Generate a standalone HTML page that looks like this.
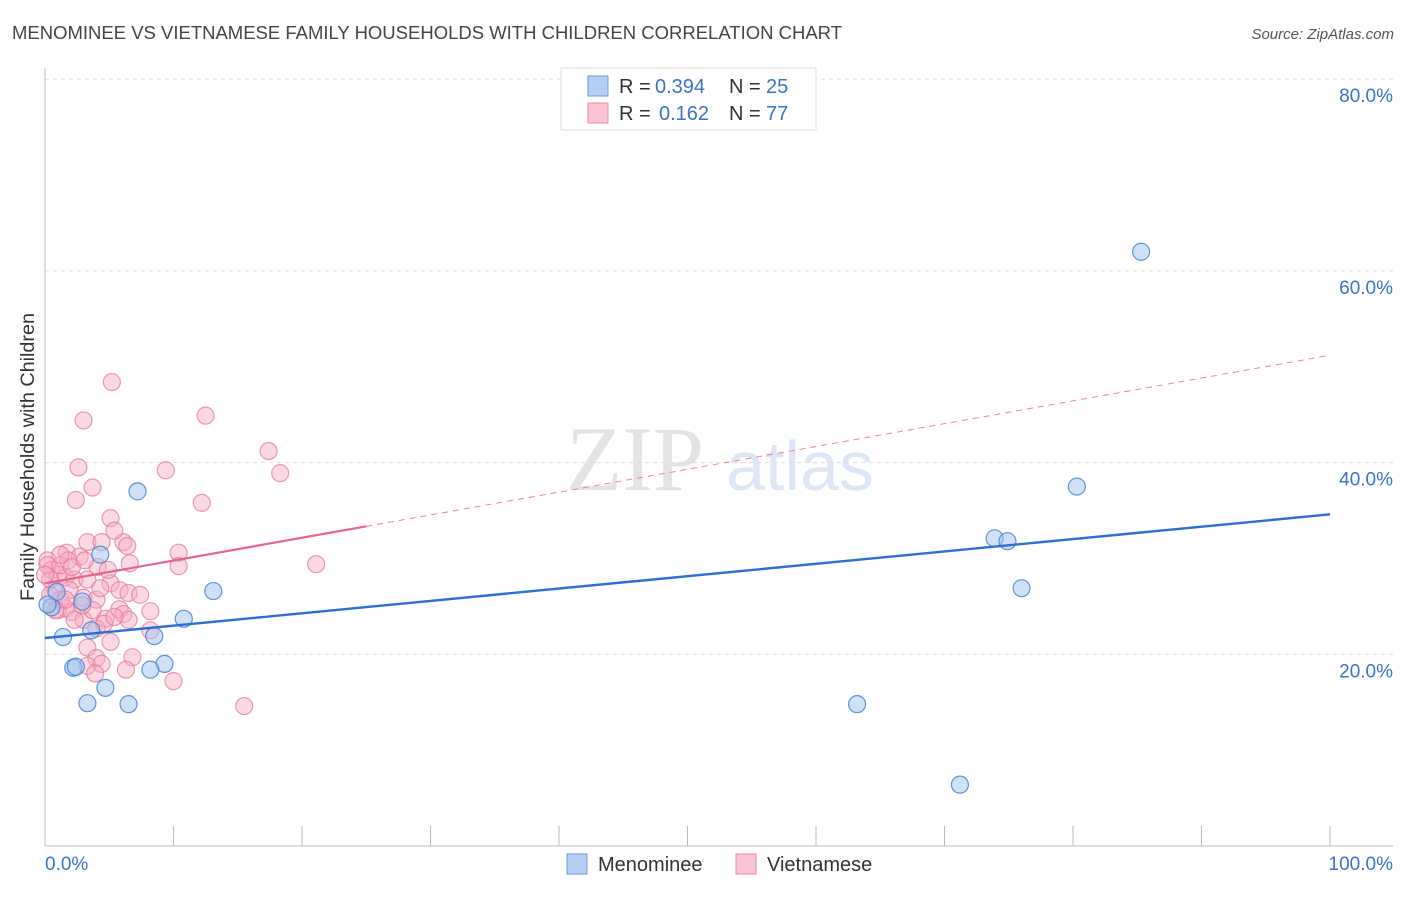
<!DOCTYPE html>
<html><head><meta charset="utf-8"><style>
body{margin:0;background:#fff;font-family:"Liberation Sans",sans-serif}
</style></head><body>
<svg id="chart" width="1406" height="892" xmlns="http://www.w3.org/2000/svg" font-family="Liberation Sans, sans-serif">
<text x="12" y="39" font-size="18" fill="#444" textLength="830" lengthAdjust="spacingAndGlyphs">MENOMINEE VS VIETNAMESE FAMILY HOUSEHOLDS WITH CHILDREN CORRELATION CHART</text>
<text x="1394" y="39" font-size="15" fill="#555" font-style="italic" text-anchor="end">Source: ZipAtlas.com</text>
<text transform="translate(34,457) rotate(-90)" font-size="19" fill="#333" text-anchor="middle" textLength="288" lengthAdjust="spacingAndGlyphs">Family Households with Children</text>
<g>
<text x="635" y="490" font-size="92" fill="#e3e3e3" font-family="Liberation Serif, serif" text-anchor="middle">ZIP</text>
<text x="800" y="490" font-size="70" fill="#dce6f5" text-anchor="middle">atlas</text>
</g>
<g id="grid"></g>
<g id="axes"></g>
<g id="marks"></g>
<g>
<rect x="561" y="68" width="255" height="62" fill="#fff" stroke="#ddd"/>
<rect x="588" y="76" width="20" height="20" fill="#b5cff3" stroke="#6a9ad8"/>
<rect x="588" y="103" width="20" height="20" fill="#f9c4d4" stroke="#e98aa8"/>
<text x="619" y="93" font-size="20" fill="#333">R = <tspan x="655" fill="#3a72cc">0.394</tspan><tspan x="729">N = </tspan><tspan x="766" fill="#3a72cc">25</tspan></text>
<text x="619" y="120" font-size="20" fill="#333">R = <tspan x="659" fill="#3a72cc">0.162</tspan><tspan x="729">N = </tspan><tspan x="766" fill="#3a72cc">77</tspan></text>
</g>
<g>
<rect x="567" y="854" width="20" height="20" fill="#b5cff3" stroke="#6a9ad8"/>
<text x="598" y="871" font-size="20" fill="#333">Menominee</text>
<rect x="736" y="854" width="20" height="20" fill="#f9c4d4" stroke="#e98aa8"/>
<text x="767" y="871" font-size="20" fill="#333">Vietnamese</text>
</g>
</svg>
<script>
const yTicks=[20,40,60,80];
const yTickLabels=["20.0%","40.0%","60.0%","80.0%"];
const xTicks=[0,10,20,30,40,50,60,70,80,90,100];
const menomineeX=[85.3,80.3,73.9,74.9,76.0,63.2,71.2,7.2,4.3,13.1,2.9,0.9,10.8,3.6,8.5,1.4,2.2,2.4,9.3,8.2,4.7,3.3,6.5,0.5,0.2];
const menomineeY=[62.0,37.5,32.1,31.8,26.9,14.8,6.4,37.0,30.4,26.6,25.5,26.5,23.7,22.5,21.9,21.8,18.6,18.7,19.0,18.4,16.5,14.9,14.8,24.9,25.2];
const vietX=[5.2,3.0,12.5,2.6,17.4,9.4,18.3,3.7,2.4,12.2,5.1,3.3,4.4,6.1,5.4,6.4,10.4,1.7,2.7,6.6,4.1,10.4,21.1,0.2,0.5,1.0,1.6,2.3,3.3,5.1,5.8,6.5,1.9,3.0,4.0,5.8,8.2,6.1,4.7,1.6,1.0,2.1,3.0,4.0,8.2,4.6,6.5,3.3,4.0,5.1,3.3,4.4,3.9,6.8,6.3,10.0,15.5,0.8,0.4,0.2,1.2,1.8,2.1,3.7,2.9,5.4,4.9,1.2,2.3,3.1,0.4,0.0,7.4,4.3,1.2,1.6,0.8];
const vietY=[48.4,44.4,44.9,39.5,41.2,39.2,38.9,37.4,36.1,35.8,34.2,31.7,31.7,31.7,32.9,31.3,30.6,30.6,30.2,29.5,29.1,29.2,29.4,29.8,28.8,28.3,28.0,27.8,27.8,27.4,26.7,26.4,26.7,25.9,25.7,24.7,24.5,24.2,23.7,24.8,24.6,24.4,23.6,22.7,22.5,23.2,23.6,20.7,19.6,21.3,18.8,19.0,18.0,19.7,18.4,17.2,14.6,26.7,27.8,29.3,29.3,29.8,29.1,24.6,25.1,23.9,28.8,25.7,23.6,29.8,26.2,28.3,26.2,26.9,30.4,25.7,24.6];
const menomineeTrend=[21.7,34.6];
const vietTrend=[27.4,51.2];
const vietSolidEnd=25;
const NS="http://www.w3.org/2000/svg";
const X=v=>45+v*12.85, Y=v=>846-v*9.585;
function mk(tag,attrs,parent){const e=document.createElementNS(NS,tag);for(const k in attrs)e.setAttribute(k,attrs[k]);parent.appendChild(e);return e;}
const grid=document.getElementById('grid'),axes=document.getElementById('axes'),marks=document.getElementById('marks');
yTicks.forEach((t,i)=>{
  const l=mk('line',{x1:45,x2:1393,y1:Y(t),y2:Y(t),stroke:'#ddd','stroke-dasharray':'4,4'},grid);
  
  
  const tx=mk('text',{x:1393,y:Y(t)+23,'font-size':19,fill:'#3a72cc','text-anchor':'end'},axes);
  tx.textContent=yTickLabels[i];
  
  
});
let a=mk('line',{x1:45,x2:45,y1:68,y2:846,stroke:'#bbb'},axes);


a=mk('line',{x1:45,x2:1393,y1:846,y2:846,stroke:'#bbb'},axes);


xTicks.forEach(t=>{
  const l=mk('line',{x1:X(t),x2:X(t),y1:826,y2:846,stroke:'#bbb'},axes);
  
  
});
let t0=mk('text',{x:45,y:870,'font-size':19,fill:'#3a72cc'},axes);t0.textContent='0.0%';


let t1=mk('text',{x:1393,y:870,'font-size':19,fill:'#3a72cc','text-anchor':'end'},axes);t1.textContent='100.0%';


vietX.forEach((v,i)=>{
  const c=mk('circle',{cx:X(v),cy:Y(vietY[i]),r:8.5,fill:'rgba(246,170,195,0.45)',stroke:'rgba(230,120,155,0.75)','stroke-width':1.2},marks);
  
  
});
menomineeX.forEach((v,i)=>{
  const c=mk('circle',{cx:X(v),cy:Y(menomineeY[i]),r:8.5,fill:'rgba(160,195,240,0.5)',stroke:'rgba(70,130,210,0.85)','stroke-width':1.2},marks);
  
  
});
const vAt=x=>vietTrend[0]+(vietTrend[1]-vietTrend[0])*x/100;
let l=mk('line',{x1:X(vietSolidEnd),y1:Y(vAt(vietSolidEnd)),x2:X(100),y2:Y(vAt(100)),stroke:'#e9839f','stroke-width':1,'stroke-dasharray':'6,5'},marks);


l=mk('line',{x1:X(0),y1:Y(vAt(0)),x2:X(vietSolidEnd),y2:Y(vAt(vietSolidEnd)),stroke:'#e8638c','stroke-width':2.2},marks);


l=mk('line',{x1:X(0),y1:Y(menomineeTrend[0]),x2:X(100),y2:Y(menomineeTrend[1]),stroke:'#2a6fd4','stroke-width':2.4},marks);


</script>
</body></html>
